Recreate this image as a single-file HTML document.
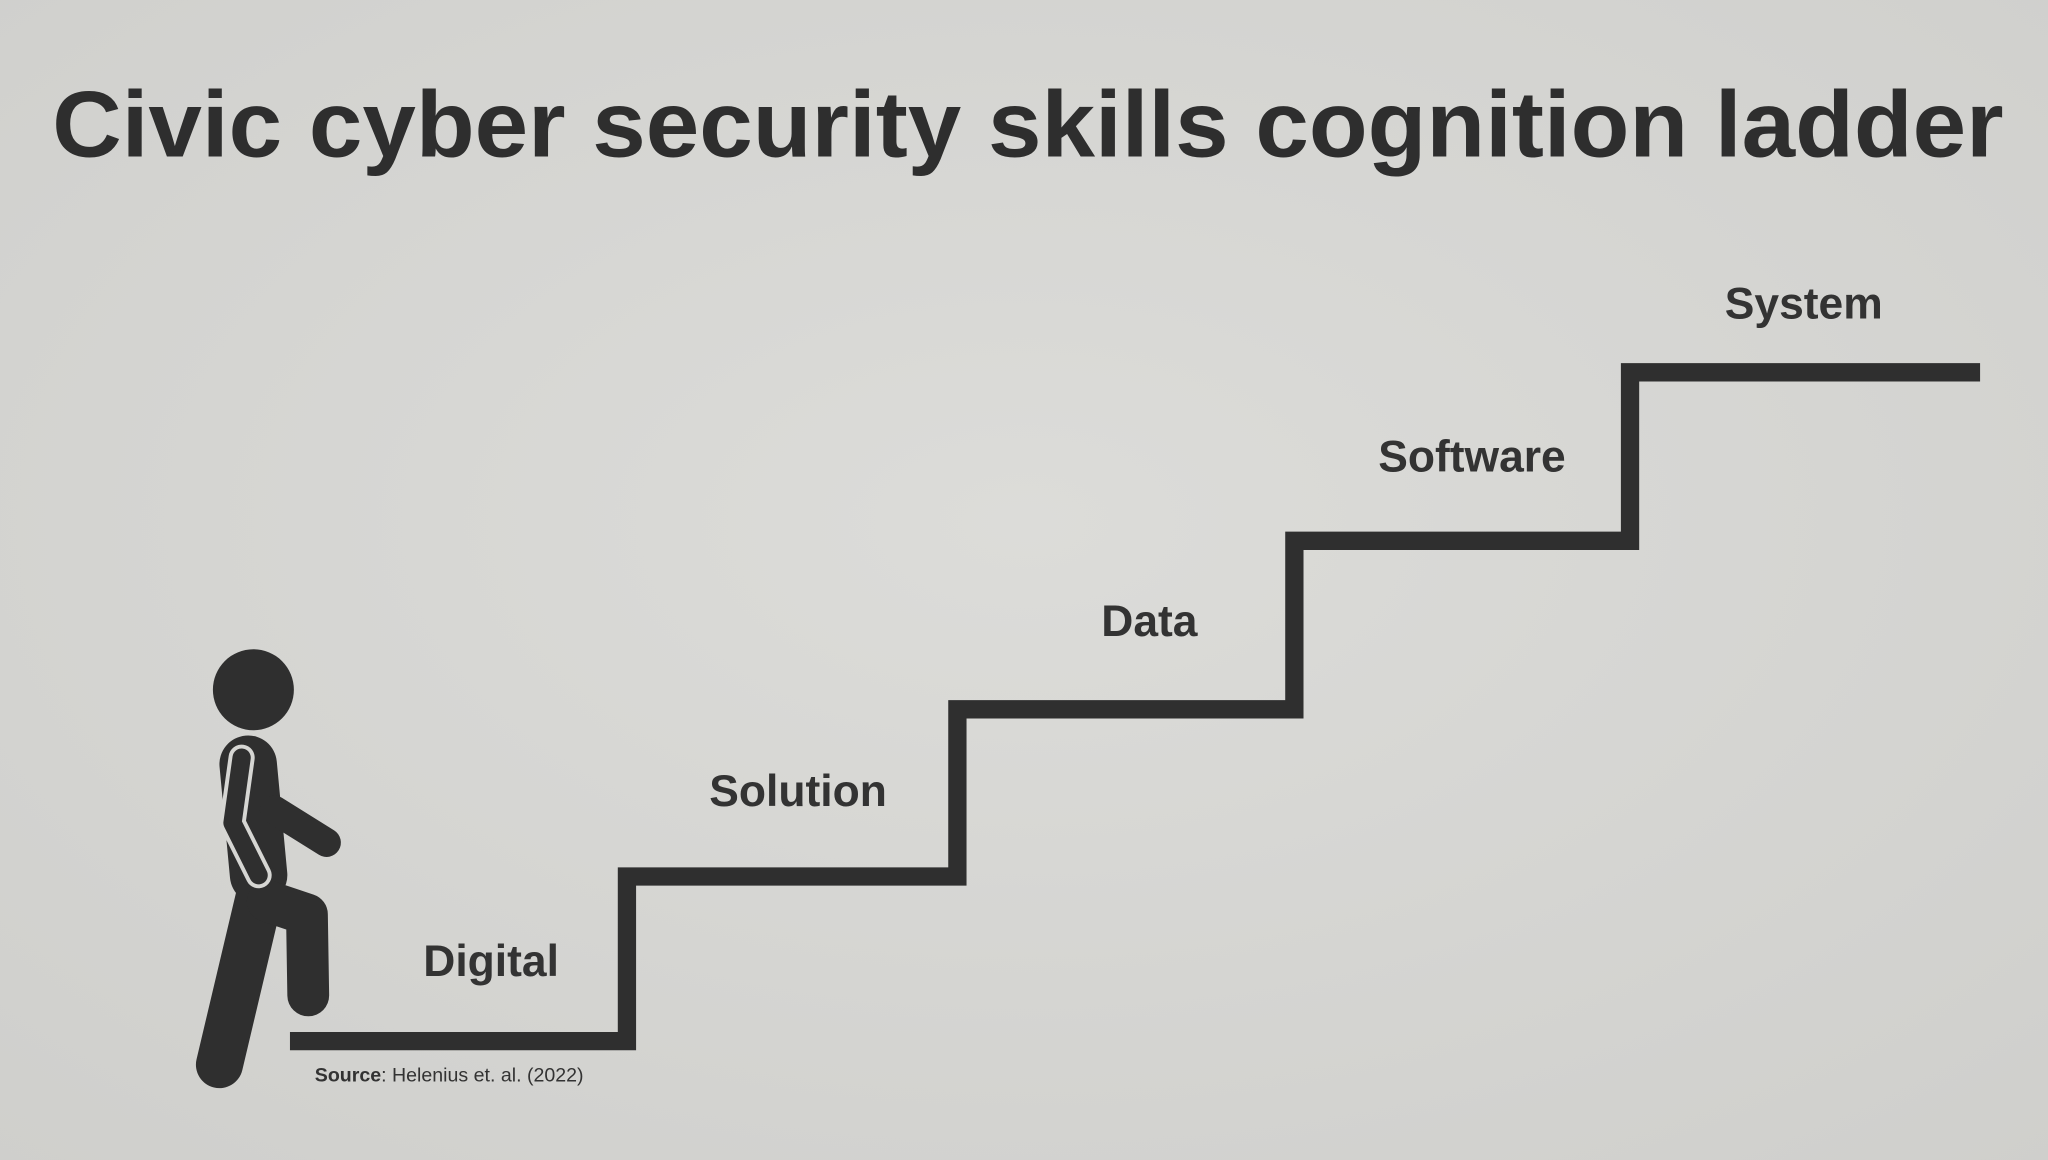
<!DOCTYPE html>
<html><head><meta charset="utf-8"><style>
html,body{margin:0;padding:0;width:2048px;height:1160px;overflow:hidden;background:#d6d6d3}
svg{display:block}
</style></head><body>
<svg width="2048" height="1160" viewBox="0 0 1568 888" preserveAspectRatio="none" xmlns="http://www.w3.org/2000/svg">
<defs><radialGradient id="bg" cx="0.5" cy="0.45" r="0.75">
<stop offset="0" stop-color="#dcdcd9"/><stop offset="1" stop-color="#cfcfcc"/></radialGradient></defs>
<rect width="1568" height="888" fill="url(#bg)"/>
<text x="787" y="120" text-anchor="middle" font-family="Liberation Sans, sans-serif" font-weight="bold" font-size="72" fill="#2e2e2e" textLength="1494" lengthAdjust="spacingAndGlyphs">Civic cyber security skills cognition ladder</text>
<g fill="none" stroke="#2f2f2f" stroke-width="14" stroke-linejoin="miter">
<polyline points="222,797 480,797 480,671 733,671 733,543 991,543 991,414 1248,414 1248,285 1516,285"/>
</g>
<g font-family="Liberation Sans, sans-serif" font-weight="bold" font-size="34" fill="#333" text-anchor="middle">
<text x="376" y="747">Digital</text>
<text x="611" y="617">Solution</text>
<text x="880" y="487">Data</text>
<text x="1127" y="361">Software</text>
<text x="1381" y="244">System</text>
</g>
<text x="241" y="828" font-family="Liberation Sans, sans-serif" font-size="15" fill="#333"><tspan font-weight="bold">Source</tspan>: Helenius et. al. (2022)</text>
<g fill="#2f2f2f" stroke="#2f2f2f" stroke-linecap="round" stroke-linejoin="round" fill-opacity="1">
<circle cx="194" cy="528" r="31" stroke="none"/>
<path d="M190 585 L198 670" stroke-width="44" fill="none"/>
<path d="M200 680 L168 815" stroke-width="36" fill="none"/>
<path d="M205 690 L235 700 L236 762" stroke-width="32" fill="none"/>
<path d="M210 620 L250 645" stroke-width="22" fill="none"/>
<path d="M185 580 L178 630 L198 670" stroke="#d6d6d3" stroke-width="20" fill="none"/>
<path d="M185 580 L178 630 L198 670" stroke="#2f2f2f" stroke-width="14" fill="none"/>
</g>
</svg>
</body></html>
